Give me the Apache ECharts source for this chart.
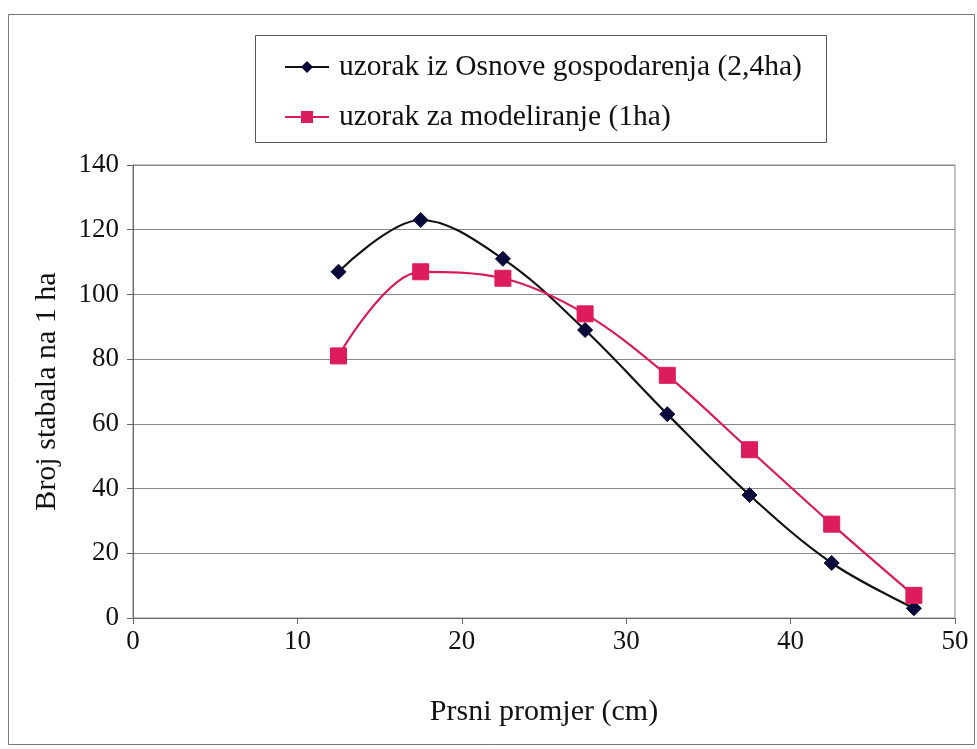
<!DOCTYPE html>
<html>
<head>
<meta charset="utf-8">
<script src="https://cdn.jsdelivr.net/npm/echarts@6/dist/echarts.min.js"></script>
<style>html,body{margin:0;padding:0;background:#fff}#c{width:977px;height:749px}</style>
</head>
<body>
<div id="c"></div>
<script>
const diameters = [12.5, 17.5, 22.5, 27.5, 32.5, 37.5, 42.5, 47.5];
const osnovaValues = [107, 123, 111, 89, 63, 38, 17, 3];
const modelValues = [81, 107, 105, 94, 75, 52, 29, 7];
const seriesNames = ['uzorak iz Osnove gospodarenja (2,4ha)', 'uzorak za modeliranje (1ha)'];
const xAxisTitle = 'Prsni promjer (cm)';
const yAxisTitle = 'Broj stabala na 1 ha';

const font = '"Liberation Serif", "Times New Roman", serif';
const chart = echarts.init(document.getElementById('c'));
chart.setOption({
  animation: false,
  backgroundColor: '#fff',
  graphic: [
    { type: 'rect', shape: { x: 8.5, y: 14.5, width: 966, height: 730 }, style: { fill: 'none', stroke: '#777', lineWidth: 1 }, z: -1 },
    { type: 'rect', shape: { x: 255.5, y: 35.5, width: 571, height: 107 }, style: { fill: '#fff', stroke: '#555', lineWidth: 1 }, z: -1 }
  ],
  legend: {
    orient: 'vertical',
    left: 279,
    top: 47,
    itemWidth: 44,
    itemHeight: 15,
    itemGap: 20,
    textStyle: { fontFamily: font, fontSize: 29.5, color: '#111', padding: [0, 0, 0, 5] },
    data: seriesNames
  },
  grid: {
    left: 133, right: 22, top: 165, bottom: 131,
    show: true, borderColor: '#888', borderWidth: 1
  },
  xAxis: {
    type: 'value', min: 0, max: 50, interval: 10,
    name: xAxisTitle, nameLocation: 'middle', nameGap: 79,
    nameTextStyle: { fontFamily: font, fontSize: 30, color: '#111' },
    axisLine: { lineStyle: { color: '#666' } },
    axisTick: { show: true, length: 6, lineStyle: { color: '#666' } },
    axisLabel: { fontFamily: font, fontSize: 27, color: '#111', margin: 10 },
    splitLine: { show: false }
  },
  yAxis: {
    type: 'value', min: 0, max: 140, interval: 20,
    name: yAxisTitle, nameLocation: 'middle', nameGap: 71,
    nameTextStyle: { fontFamily: font, fontSize: 30, color: '#111' },
    axisLine: { show: true, lineStyle: { color: '#666' } },
    axisTick: { show: true, length: 6, lineStyle: { color: '#666' } },
    axisLabel: { fontFamily: font, fontSize: 27, color: '#111', margin: 14 },
    splitLine: { show: true, lineStyle: { color: '#888', width: 1 } }
  },
  series: [
    {
      name: seriesNames[0], type: 'line', smooth: 0.35,
      data: diameters.map((d, i) => [d, osnovaValues[i]]),
      symbol: 'diamond', symbolSize: 15,
      lineStyle: { color: '#111', width: 2.2 },
      itemStyle: { color: '#0a0a3a', borderColor: '#0a0a3a' }
    },
    {
      name: seriesNames[1], type: 'line', smooth: 0.35,
      data: diameters.map((d, i) => [d, modelValues[i]]),
      symbol: 'rect', symbolSize: 16,
      lineStyle: { color: '#d81b5a', width: 2.2 },
      itemStyle: { color: '#dc1c5c', borderColor: '#dc1c5c' }
    }
  ]
});
</script>
</body>
</html>
